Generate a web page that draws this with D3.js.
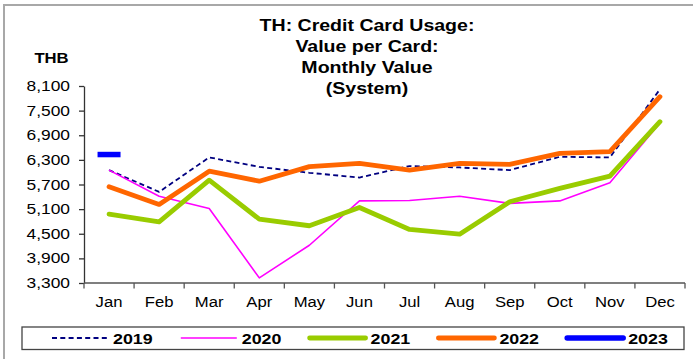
<!DOCTYPE html>
<html>
<head>
<meta charset="utf-8">
<script src="https://cdn.jsdelivr.net/npm/d3@7"></script>
<style>
  html, body { margin: 0; padding: 0; background: #fff; }
  svg { display: block; font-family: "Liberation Sans", Arial, sans-serif; }
</style>
</head>
<body>
<svg id="chart" width="693" height="359"></svg>
<script>
// Monthly value per credit card, THB
const months = ["Jan", "Feb", "Mar", "Apr", "May", "Jun", "Jul", "Aug", "Sep", "Oct", "Nov", "Dec"];
const v2019 = [6050, 5520, 6360, 6130, 5985, 5870, 6150, 6115, 6050, 6375, 6360, 8020];
const v2020 = [6050, 5415, 5115, 3425, 4220, 5300, 5310, 5415, 5240, 5300, 5740, 7200];
const v2021 = [4980, 4790, 5805, 4855, 4695, 5140, 4605, 4490, 5280, 5605, 5905, 7230];
const v2022 = [5645, 5215, 6025, 5780, 6135, 6215, 6050, 6215, 6190, 6460, 6500, 7840];
const v2023 = [6430];
const yTicks = [3300, 3900, 4500, 5100, 5700, 6300, 6900, 7500, 8100];
const titleLines = ["TH: Credit Card Usage:", "Value per Card:", "Monthly Value", "(System)"];

const series = [
  { name: "2019", values: v2019, color: "#000080", width: 1.8, dash: "5,3.3", cap: "butt" },
  { name: "2020", values: v2020, color: "#FF00FF", width: 1.6, dash: null, cap: "butt" },
  { name: "2021", values: v2021, color: "#99CC00", width: 4.8, dash: null, cap: "round" },
  { name: "2022", values: v2022, color: "#FF6600", width: 4.8, dash: null, cap: "round" },
  { name: "2023", values: v2023, color: "#0000FF", width: 5.5, dash: null, cap: "butt" }
];

const svg = d3.select("#chart");
const SX = 1.15; // horizontal text stretch

function label(g, x, y, text, opts) {
  return g.append("text")
    .attr("transform", `translate(${x},${y}) scale(${opts.sx || SX},1)`)
    .attr("text-anchor", opts.anchor || "start")
    .attr("font-size", opts.size)
    .attr("font-weight", opts.bold ? "bold" : "normal")
    .attr("fill", "#000")
    .text(text);
}

// outer frame
svg.append("rect")
  .attr("x", 4).attr("y", 5).attr("width", 720).attr("height", 400)
  .attr("fill", "none").attr("stroke", "#a8a8a8").attr("stroke-width", 2);

const x = d3.scaleBand().domain(months).range([84, 685]);
const y = d3.scaleLinear().domain([3300, 8100]).range([283, 86]);
const cx = m => x(m) + x.bandwidth() / 2;

// title
titleLines.forEach((t, i) => label(svg, 367, 30.5 + i * 21.2, t, { size: 17, bold: true, anchor: "middle" }));
label(svg, 51.5, 63, "THB", { size: 14.5, bold: true, anchor: "middle" });

// y axis
const yAxis = svg.append("g").attr("transform", "translate(84,0)")
  .call(d3.axisLeft(y).tickValues(yTicks).tickSize(5).tickSizeOuter(0).tickFormat(""));
yAxis.select(".domain").attr("stroke", "#333").attr("stroke-width", 1.3);
yAxis.selectAll(".tick line").attr("stroke", "#333").attr("stroke-width", 1.3);
yTicks.forEach(v => label(svg, 70, y(v) + 5, d3.format(",")(v), { size: 14.5, anchor: "end", sx: 1.2 }));

// x axis: ticks on band boundaries, labels at band centres
const xAxis = svg.append("g");
xAxis.append("line").attr("x1", 84).attr("x2", 685).attr("y1", 283).attr("y2", 283)
  .attr("stroke", "#555").attr("stroke-width", 1.3);
const bounds = months.map(m => x(m)).concat([x.range()[1]]);
xAxis.selectAll("line.tk").data(bounds).enter().append("line").attr("class", "tk")
  .attr("x1", d => d).attr("x2", d => d).attr("y1", 283).attr("y2", 288.5)
  .attr("stroke", "#555").attr("stroke-width", 1.3);
months.forEach(m => label(svg, cx(m), 306.5, m, { size: 14.5, anchor: "middle" }));

// series lines
const line = d3.line().x((d, i) => cx(months[i])).y(d => y(d));
series.forEach(s => {
  if (s.values.length > 1) {
    svg.append("path")
      .attr("d", line(s.values))
      .attr("fill", "none")
      .attr("stroke", s.color)
      .attr("stroke-width", s.width)
      .attr("stroke-dasharray", s.dash)
      .attr("stroke-linejoin", "round")
      .attr("stroke-linecap", s.cap);
  } else {
    // single-point series drawn as a short dash marker
    const px = cx(months[0]);
    svg.append("line")
      .attr("x1", px - 11.5).attr("x2", px + 11.5)
      .attr("y1", y(s.values[0])).attr("y2", y(s.values[0]))
      .attr("stroke", s.color).attr("stroke-width", s.width);
  }
});

// legend
const lg = svg.append("g");
lg.append("rect").attr("x", 22).attr("y", 327).attr("width", 662).attr("height", 22.5)
  .attr("fill", "#fff").attr("stroke", "#444").attr("stroke-width", 1.3);
series.forEach((s, i) => {
  const x0 = 52 + i * 128.8;
  lg.append("line")
    .attr("x1", x0).attr("x2", x0 + 56).attr("y1", 338).attr("y2", 338)
    .attr("stroke", s.color)
    .attr("stroke-width", s.width)
    .attr("stroke-dasharray", s.dash)
    .attr("stroke-linecap", s.cap === "round" || s.name === "2023" ? "round" : "butt");
  label(lg, x0 + 61, 344, s.name, { size: 15.5, bold: true });
});
</script>
</body>
</html>
